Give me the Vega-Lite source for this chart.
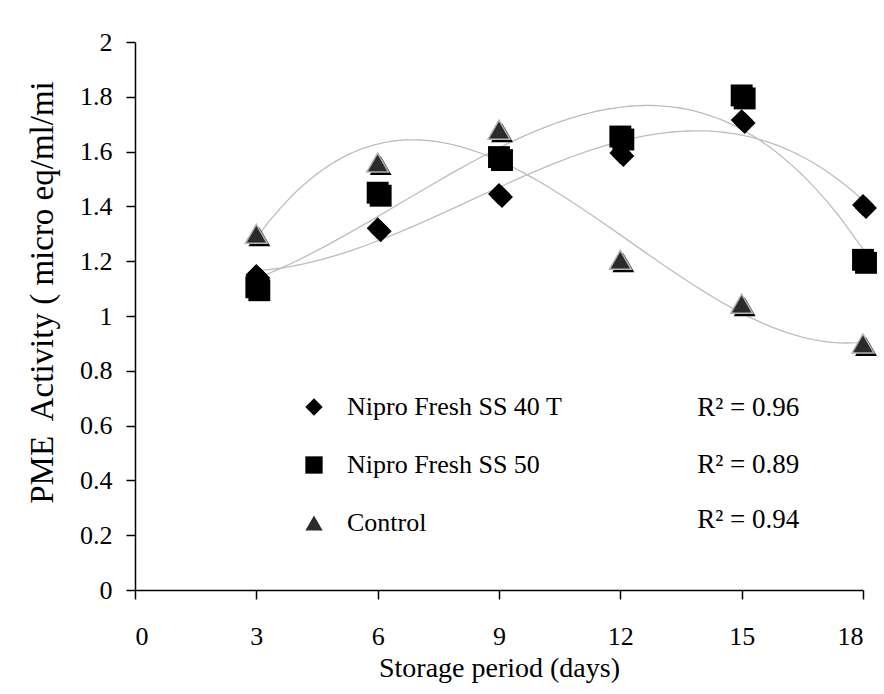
{
  "$schema": "https://vega.github.io/schema/vega-lite/v6.json",
  "width": 728,
  "height": 548,
  "autosize": {"type": "none"},
  "padding": {"left": 135, "top": 42, "right": 21, "bottom": 104},
  "background": "white",
  "config": {
    "view": {"stroke": null},
    "font": "Liberation Serif",
    "axis": {
      "grid": false,
      "domainColor": "black",
      "domainWidth": 1.5,
      "tickColor": "black",
      "tickWidth": 1.5,
      "tickSize": 9,
      "labelColor": "black",
      "labelFont": "Liberation Serif",
      "labelFontSize": 26,
      "titleColor": "black",
      "titleFont": "Liberation Serif",
      "titleFontWeight": "normal"
    },
    "legend": {
      "orient": "none",
      "legendX": 166,
      "legendY": 352,
      "padding": 0,
      "labelFont": "Liberation Serif",
      "labelFontSize": 26,
      "labelColor": "black",
      "labelOffset": 20,
      "labelLimit": 500,
      "symbolSize": 300,
      "rowPadding": 32,
      "symbolStrokeWidth": 0
    }
  },
  "datasets": {
    "pts": [
      {"day": 3, "pme": 1.15, "series": "Nipro Fresh SS 40 T"},
      {"day": 6, "pme": 1.32, "series": "Nipro Fresh SS 40 T"},
      {"day": 9, "pme": 1.445, "series": "Nipro Fresh SS 40 T"},
      {"day": 12, "pme": 1.595, "series": "Nipro Fresh SS 40 T"},
      {"day": 15, "pme": 1.715, "series": "Nipro Fresh SS 40 T"},
      {"day": 18, "pme": 1.405, "series": "Nipro Fresh SS 40 T"},
      {"day": 3, "pme": 1.105, "series": "Nipro Fresh SS 50"},
      {"day": 6, "pme": 1.45, "series": "Nipro Fresh SS 50"},
      {"day": 9, "pme": 1.58, "series": "Nipro Fresh SS 50"},
      {"day": 12, "pme": 1.655, "series": "Nipro Fresh SS 50"},
      {"day": 15, "pme": 1.805, "series": "Nipro Fresh SS 50"},
      {"day": 18, "pme": 1.205, "series": "Nipro Fresh SS 50"},
      {"day": 3, "pme": 1.30, "series": "Control"},
      {"day": 6, "pme": 1.56, "series": "Control"},
      {"day": 9, "pme": 1.68, "series": "Control"},
      {"day": 12, "pme": 1.205, "series": "Control"},
      {"day": 15, "pme": 1.045, "series": "Control"},
      {"day": 18, "pme": 0.90, "series": "Control"}
    ],
    "r2": [
      {"day": 13.9, "pme": 0.665, "label": "R² = 0.96"},
      {"day": 13.9, "pme": 0.455, "label": "R² = 0.89"},
      {"day": 13.9, "pme": 0.255, "label": "R² = 0.94"}
    ]
  },
  "layer": [
    {
      "data": {"name": "pts"},
      "transform": [
        {"regression": "pme", "on": "day", "groupby": ["series"], "method": "poly", "order": 3, "extent": [3, 18]}
      ],
      "mark": {"type": "line", "color": "#bdbdbd", "strokeWidth": 1.3},
      "encoding": {
        "x": {
          "field": "day", "type": "quantitative",
          "scale": {"domain": [0, 18], "nice": false},
          "axis": {"values": [0, 3, 6, 9, 12, 15, 18], "labelPadding": 24, "title": "Storage period (days)", "titleFontSize": 28, "titleBaseline": "middle", "titleY": 78}
        },
        "y": {
          "field": "pme", "type": "quantitative",
          "scale": {"domain": [0, 2], "nice": false},
          "axis": {"values": [0, 0.2, 0.4, 0.6, 0.8, 1, 1.2, 1.4, 1.6, 1.8, 2], "format": "~g", "labelPadding": 14, "title": "PME\u00a0 Activity ( micro eq/ml/mi", "titleFontSize": 33, "titleBaseline": "middle", "titleX": -93, "titleY": 250}
        },
        "detail": {"field": "series"}
      }
    },
    {
      "data": {"name": "pts"},
      "mark": {"type": "point", "filled": true, "opacity": 1, "size": 480, "xOffset": 3, "yOffset": 3, "color": "black"},
      "encoding": {
        "x": {"field": "day", "type": "quantitative"},
        "y": {"field": "pme", "type": "quantitative"},
        "shape": {"field": "series", "type": "nominal", "title": null, "sort": ["Nipro Fresh SS 40 T", "Nipro Fresh SS 50", "Control"], "scale": {"domain": ["Nipro Fresh SS 40 T", "Nipro Fresh SS 50", "Control"], "range": ["diamond", "square", "triangle-up"]}}
      }
    },
    {
      "data": {"name": "pts"},
      "mark": {"type": "point", "filled": true, "opacity": 1, "size": 480},
      "encoding": {
        "x": {"field": "day", "type": "quantitative"},
        "y": {"field": "pme", "type": "quantitative"},
        "shape": {"field": "series", "type": "nominal", "title": null, "sort": ["Nipro Fresh SS 40 T", "Nipro Fresh SS 50", "Control"],
          "legend": {"labelFont": "Liberation Serif", "labelFontSize": 26, "labelLimit": 500, "labelOffset": 20,
            "encode": {"labels": {"update": {"font": {"value": "Liberation Serif"}, "fontSize": {"value": 26}}}}}},
        "fill": {"field": "series", "type": "nominal", "title": null, "sort": ["Nipro Fresh SS 40 T", "Nipro Fresh SS 50", "Control"], "scale": {"domain": ["Nipro Fresh SS 40 T", "Nipro Fresh SS 50", "Control"], "range": ["black", "black", "#2b2b2b"]},
          "legend": {"labelFont": "Liberation Serif", "labelFontSize": 26, "labelLimit": 500, "labelOffset": 20,
            "encode": {"labels": {"update": {"font": {"value": "Liberation Serif"}, "fontSize": {"value": 26}}}}}}
      }
    },
    {
      "data": {"name": "pts"},
      "transform": [{"filter": "datum.series === 'Control'"}],
      "mark": {"type": "point", "shape": "triangle-up", "filled": false, "opacity": 1, "size": 480, "stroke": "#b5b5b5", "strokeWidth": 1.5},
      "encoding": {
        "x": {"field": "day", "type": "quantitative"},
        "y": {"field": "pme", "type": "quantitative"}
      }
    },
    {
      "data": {"name": "r2"},
      "mark": {"type": "text", "align": "left", "baseline": "middle", "font": "Liberation Serif", "fontSize": 27, "color": "black"},
      "encoding": {
        "x": {"field": "day", "type": "quantitative"},
        "y": {"field": "pme", "type": "quantitative"},
        "text": {"field": "label"}
      }
    }
  ]
}
